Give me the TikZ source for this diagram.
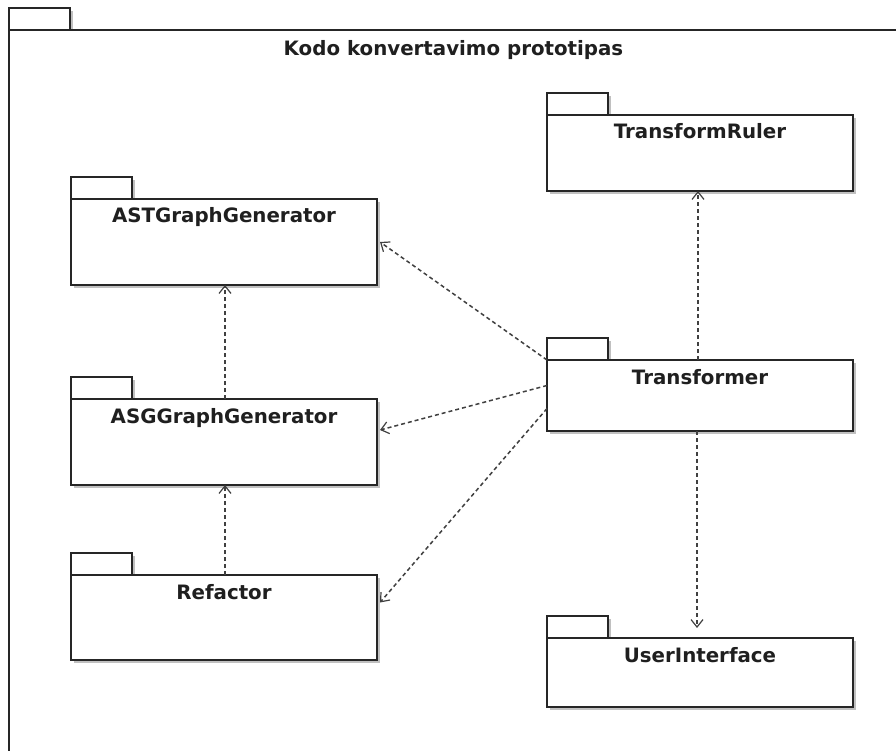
\documentclass[tikz,border=0pt]{standalone}
\usepackage{fontspec}
\setmainfont{DejaVu Sans}
\usetikzlibrary{arrows.meta}

\definecolor{linec}{HTML}{262626}
\definecolor{dashc}{HTML}{404040}
\definecolor{shadowc}{HTML}{C0C0C0}

\tikzset{
  pkgbody/.style={draw=linec, line width=1.4pt, fill=white, anchor=north west,
    inner sep=0pt, outer sep=0pt},
  pkgshadow/.style={fill=shadowc, draw=none},
  pkglabel/.style={anchor=base, inner sep=0pt, text=black!88,
    font=\bfseries\fontsize{19.8}{23}\selectfont},
  depend/.style={draw=dashc, line width=1.5pt, dash pattern=on 4pt off 3pt,
    -{Straight Barb[length=7.5pt,width=12pt,line width=1.2pt]}},
}

% UML package: #1 name, #2 x, #3 y (top of body), #4 width, #5 height, #6 title
\newcommand\umlpkg[6]{%
  \fill[pkgshadow] (#2+3,#3-22+3) rectangle (#2+61+3,#3+3);
  \fill[pkgshadow] (#2+3,#3+3) rectangle (#2+#4+3,#3+#5+3);
  \node[pkgbody, minimum width=61pt, minimum height=22pt] (#1-tab) at (#2,#3-22) {};
  \node[pkgbody, minimum width=#4pt, minimum height=#5pt] (#1) at (#2,#3) {};
  \node[pkglabel] (#1-label) at ([yshift=-24pt]#1.north) {#6};
}

\begin{document}
\begin{tikzpicture}[x=1pt,y=-1pt]
  \clip (0,0) rectangle (896,751);
  \fill[white] (0,0) rectangle (896,751);

  % enclosing package
  \umlpkg{frame}{9}{30}{889}{740}{}
  \node[pkglabel] (frame-title) at ([yshift=-26pt]frame.north) {Kodo konvertavimo prototipas};

  % inner packages
  \umlpkg{tr}{547}{115}{306}{76}{TransformRuler}
  \umlpkg{ast}{71}{199}{306}{86}{ASTGraphGenerator}
  \umlpkg{tf}{547}{360}{306}{71}{Transformer}
  \umlpkg{asg}{71}{399}{306}{86}{ASGGraphGenerator}
  \umlpkg{rf}{71}{575}{306}{85}{Refactor}
  \umlpkg{ui}{547}{638}{306}{69}{UserInterface}

  % dependencies
  \draw[depend] ([xshift=-2pt]tf.north) -- ([xshift=-2pt]tr.south);
  \draw[depend, shorten >=10pt] ([xshift=-3pt]tf.south) -- ([xshift=-3pt]ui.north);
  \draw[depend] (tf.north west) -- ([xshift=3pt]ast.east);
  \draw[depend] ([yshift=10pt]tf.west) -- ([xshift=3pt,yshift=12pt]asg.east);
  \draw[depend] ([yshift=-13pt]tf.west) -- ([xshift=3pt,yshift=15pt]rf.east);
  \draw[depend] ([xshift=1pt]asg.north) -- ([xshift=1pt]ast.south);
  \draw[depend] ([xshift=1pt]rf.north) -- ([xshift=1pt]asg.south);
\end{tikzpicture}
\end{document}
